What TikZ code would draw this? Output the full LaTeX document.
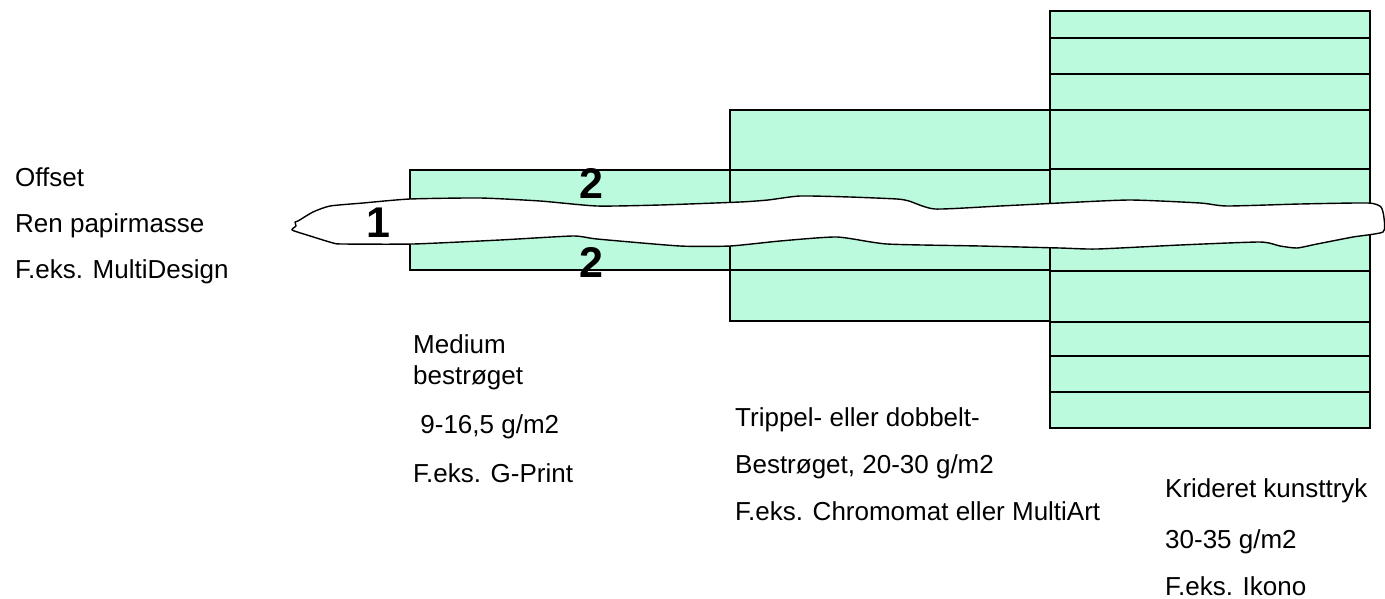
\documentclass[tikz,border=0pt]{standalone}
\usepackage{fontspec}
\setmainfont{Liberation Sans}
\definecolor{mint}{RGB}{187,250,220}
\begin{document}
\begin{tikzpicture}[x=1pt,y=-1pt,
  layer/.style={draw=black,line width=1.4pt,fill=mint},
  sep/.style={draw=black,line width=1.4pt},
  lbl/.style={anchor=base west,inner sep=0pt,font=\fontsize{26}{30}\selectfont},
  num/.style={anchor=base,inner sep=0pt,font=\fontsize{43}{48}\selectfont\bfseries}]
\useasboundingbox (0,0) rectangle (1385,598);
% stacks
\draw[layer] (410,170) rectangle (730,270);
\draw[layer] (730,110) rectangle (1050,321);
\draw[sep] (730,170) -- (1050,170);
\draw[sep] (730,270) -- (1050,270);
\draw[layer] (1050,11) rectangle (1370,428);
\foreach \yy in {38,74,110,169,271,322,356,392}
  \draw[sep] (1050,\yy) -- (1370,\yy);
% base paper (blob)
\draw[fill=white,line width=1.4pt,line join=round] plot[smooth cycle,tension=0.35] coordinates {
 (292,230) (296,226) (295,222) (298,221) (313,212) (330,206) (363,203) (410,199)
 (480,198) (540,201) (597,206) (660,205) (740,202) (768,200) (800,196) (850,197)
 (897,199) (909,201) (935,209) (1000,206) (1060,203) (1130,200) (1200,203) (1227,206)
 (1300,204) (1368,203) (1381,207) (1384,218) (1383,232) (1353,237) (1317,244) (1297,248)
 (1280,246) (1260,242) (1180,245) (1097,249) (1060,248) (980,246) (887,244) (837,237)
 (780,241) (730,246) (680,246) (597,239) (573,236) (500,240) (413,244) (343,244)
 (333,243) (307,235)};
% numbers
\node[num] (n1) at (378,237) {1};
\node[num] (n2a) at (591,198) {2};
\node[num] (n2b) at (591,277) {2};
% labels
\node[lbl] (o1) at (15,186) {Offset};
\node[lbl] (o2) at (15,232) {Ren papirmasse};
\node[lbl] (o3) at (15,278) {F.eks. MultiDesign};
\node[lbl] (m1) at (413,353) {Medium};
\node[lbl] (m2) at (413,384) {bestrøget};
\node[lbl] (m3) at (413,433) {\ 9-16,5 g/m2};
\node[lbl] (m4) at (413,482) {F.eks. G-Print};
\node[lbl] (t1) at (735,426) {Trippel- eller dobbelt-};
\node[lbl] (t2) at (735,473) {Bestrøget, 20-30 g/m2};
\node[lbl] (t3) at (735,520) {F.eks. Chromomat eller MultiArt};
\node[lbl] (k1) at (1165,497) {Krideret kunsttryk};
\node[lbl] (k2) at (1165,548) {30-35 g/m2};
\node[lbl] (k3) at (1165,595) {F.eks. Ikono};
\end{tikzpicture}
\end{document}
